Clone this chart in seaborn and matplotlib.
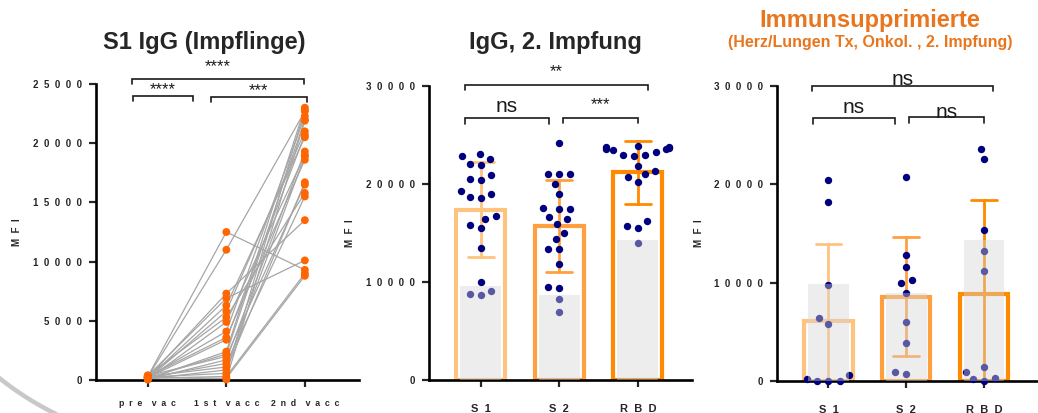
import numpy as np
import pandas as pd
import matplotlib
matplotlib.use("Agg")
import matplotlib.pyplot as plt
import seaborn as sns
from matplotlib.path import Path
from matplotlib.lines import Line2D

sns.set_style("ticks")
plt.rcParams["font.family"] = ["Liberation Sans", "DejaVu Sans"]

# ---------------- data ----------------
timepoints = ["pre vac", "1st vacc", "2nd vacc"]
time_labels = ["p  r  e    v  a  c", "1  s  t    v  a  c  c", "2  n  d    v  a  c  c"]
pre_vac = [300, 250, 200, 350, 150, 100, 400, 50, 250, 300, 200, 100, 150, 350, 50, 200, 300, 100, 250, 150, 200, 300]
first_vacc = [12500, 11000, 7300, 6900, 6300, 5800, 5300, 4900, 4100, 3600, 3400, 2400, 2200, 2000, 1700, 1400,
              1100, 850, 560, 300, 150, 50]
second_vacc = [9300, 22700, 13500, 10100, 20500, 21000, 15800, 19000, 22300, 18600, 20700, 23000, 22000, 16500,
               19300, 15500, 18900, 16700, 22800, 9000, 8800, 21900]

antigens = ["S1", "S2", "RBD"]
antigen_labels = ["S  1", "S  2", "R  B  D"]

vacc_s1 = [22830, 22020, 21950, 22600, 23100, 20960, 20455, 20560, 19300, 18690, 18590, 18960, 15770, 16720,
           16450, 15460, 13520, 10020, 9110, 8700, 8770]
vacc_s2 = [24160, 21000, 21000, 21000, 20010, 19030, 17500, 17465, 17530, 16615, 16410, 15900, 15050, 14340,
           13320, 13320, 11825, 9410, 9515, 8290, 6965]
vacc_rbd = [23890, 23680, 23445, 23550, 23750, 22940, 22830, 22940, 23550, 21815, 21370, 21000, 20690, 20180,
            15700, 15560, 16210, 14000, 23800, 23300]
vacc_grey = [9580, 8665, 14270]

immun_s1 = [20440, 18240, 9760, 6370, 5800, 610, 0, 0, 0, 240]
immun_s2 = [20750, 12850, 11560, 10270, 9930, 8980, 6030, 3830, 680, 880]
immun_rbd = [23560, 22540, 15360, 13250, 11220, 1460, 270, 0, 170, 950]
immun_grey = [9830, 8915, 14340]

y1_ticks = [0, 5000, 10000, 15000, 20000, 25000]
y23_ticks = [0, 10000, 20000, 30000]

# ---------------- style ----------------
bar_palette = {"S1": "#FFC380", "S2": "#FFA040", "RBD": "#FF8A00"}
dot_navy = "#00007F"
orange_dot = "#FF6600"
title_orange = "#E8761E"
W, H = 1038, 413

# dot marker: circle drawn at 70% of the nominal marker box, so that the swarm
# keeps the looser spacing of the original (spacing uses the nominal size)
_circ = Path.unit_circle()
dot_marker = Path(np.vstack([_circ.vertices * 0.70, [[1.0, 0.0]]]),
                  np.append(_circ.codes, Path.MOVETO))

fig = plt.figure(figsize=(W / 100, H / 100), dpi=100)


def spaced(n):
    return "0" if n == 0 else "  ".join(str(n))


def style_axis(ax, yticks, xlabels, xfs, xpad):
    for s in ["top", "right"]:
        ax.spines[s].set_visible(False)
    for s in ["left", "bottom"]:
        ax.spines[s].set_linewidth(1.9)
        ax.spines[s].set_color("black")
    ax.set_yticks(yticks)
    ax.set_yticklabels([spaced(t) for t in yticks], fontsize=7, fontweight="bold")
    ax.set_xticks(range(len(xlabels)))
    ax.set_xticklabels(xlabels, fontsize=xfs, fontweight="bold")
    ax.tick_params(axis="y", length=5, width=1.6, pad=5)
    ax.tick_params(axis="x", length=5, width=1.6, pad=xpad)
    ax.set_xlabel("")
    ax.set_ylabel("M  F  I", fontsize=7, fontweight="bold")
    ax.yaxis.set_label_coords(-0.28, 0.5)
    ax.set_xlim(-0.66, 2.69)


def bracket(ax, x1, x2, y, h, text, ty, fs):
    ax.plot([x1, x1, x2, x2], [y - h, y, y, y - h], color="#1a1a1a", lw=1.2, clip_on=False,
            solid_joinstyle="miter")
    ax.text((x1 + x2) / 2, ty, text, ha="center", va="center", fontsize=fs, color="#1a1a1a",
            clip_on=False)


# ---------------- panel 1 ----------------
ax1 = fig.add_axes([96 / W, 1 - 380 / H, 263 / W, 296 / H])
n = len(pre_vac)
df1 = pd.DataFrame({
    "subject": np.tile(np.arange(n), 3),
    "time": np.repeat(timepoints, n),
    "mfi": pre_vac + first_vacc + second_vacc,
})
df1["time"] = pd.Categorical(df1["time"], categories=timepoints, ordered=True)
df1["xpos"] = df1["time"].cat.codes
sns.lineplot(data=df1, x="xpos", y="mfi", units="subject", estimator=None, color="#A6A6A6",
             lw=0.9, ax=ax1, legend=False)
sns.scatterplot(data=df1, x="xpos", y="mfi", color=orange_dot, s=32, edgecolor="none",
                ax=ax1, legend=False, zorder=5, clip_on=False)
ax1.set_ylim(0, 25000)
style_axis(ax1, y1_ticks, time_labels, 6.3, 9)
bracket(ax1, -0.2, 1.99, 25420, 420, "****", 26500, 12)
bracket(ax1, -0.19, 0.57, 23990, 430, "****", 24500, 12)
bracket(ax1, 0.80, 2.03, 23900, 400, "***", 24420, 12)
fig.text(204 / W, 1 - 43 / H, "S1 IgG (Impflinge)", ha="center", va="center", fontsize=17,
         fontweight="bold")


# ---------------- bar panels ----------------
def bar_panel(ax, s1, s2, rbd, grey):
    df = pd.DataFrame({
        "antigen": ["S1"] * len(s1) + ["S2"] * len(s2) + ["RBD"] * len(rbd),
        "mfi": s1 + s2 + rbd,
    })
    sns.barplot(data=df, x="antigen", y="mfi", hue="antigen", order=antigens, hue_order=antigens,
                palette=bar_palette, fill=False, errorbar="sd", width=0.62, capsize=0.33,
                linewidth=3.0, err_kws={"linewidth": 2.0}, legend=False, ax=ax)
    sns.swarmplot(data=df, x="antigen", y="mfi", order=antigens, color=dot_navy, size=7.6,
                  marker=dot_marker, linewidth=0, ax=ax, zorder=4, clip_on=False)
    for c in ax.collections:
        c.set_clip_on(False)
    gdf = pd.DataFrame({"antigen": antigens, "mfi": grey})
    sns.barplot(data=gdf, x="antigen", y="mfi", order=antigens, color="#D6D6D6", alpha=0.42,
                width=0.52, linewidth=0, ax=ax, zorder=6)
    ax.set_ylim(0, 30000)
    style_axis(ax, y23_ticks, antigen_labels, 8, 12)


ax2 = fig.add_axes([429 / W, 1 - 380 / H, 263 / W, 294 / H])
bar_panel(ax2, vacc_s1, vacc_s2, vacc_rbd, vacc_grey)
bracket(ax2, -0.2, 2.13, 30070, 510, "**", 31500, 12)
bracket(ax2, -0.2, 0.87, 26775, 615, "ns", 27900, 15)
bracket(ax2, 1.05, 2.0, 26775, 545, "***", 28050, 12)
fig.text(555 / W, 1 - 43 / H, "IgG, 2. Impfung", ha="center", va="center", fontsize=17,
         fontweight="bold")

ax3 = fig.add_axes([777 / W, 1 - 381 / H, 261 / W, 295 / H])
bar_panel(ax3, immun_s1, immun_s2, immun_rbd, immun_grey)
bracket(ax3, -0.21, 2.11, 30000, 475, "ns", 30650, 15)
bracket(ax3, -0.2, 0.85, 26710, 575, "ns", 27850, 15)
bracket(ax3, 1.04, 2.0, 26815, 600, "ns", 27350, 15)
fig.text(870 / W, 1 - 20 / H, "Immunsupprimierte", ha="center", va="center", fontsize=17,
         fontweight="bold", color=title_orange)
fig.text(870 / W, 1 - 43 / H, "(Herz/Lungen Tx, Onkol. , 2. Impfung)", ha="center", va="center",
         fontsize=11.5, fontweight="bold", color=title_orange)

# decorative slide arc in the lower-left corner (pixel geometry of the slide background)
theta = np.radians(np.linspace(212, 250, 60))
arc_x = (190 + 305 * np.cos(theta)) / W
arc_y = (273 + 305 * np.sin(theta)) / H
fig.add_artist(Line2D(arc_x, arc_y, transform=fig.transFigure, color="#C8C8C8", lw=3.2))

fig.savefig("out.png", dpi=100)
